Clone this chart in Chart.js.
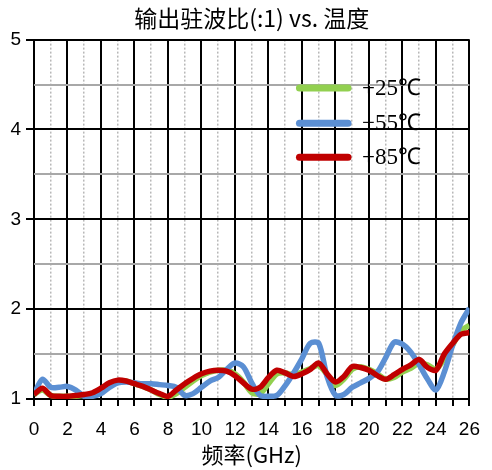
<!DOCTYPE html>
<html>
<head>
<meta charset="utf-8">
<script src="https://cdn.jsdelivr.net/npm/chart.js@4"></script>
<style>
  html, body { margin: 0; padding: 0; background: #fff; }
  #wrap { width: 492px; height: 470px; }
</style>
</head>
<body>
<div id="wrap"><canvas id="vswrChart"></canvas></div>
<script>
// frequency points (GHz)
const freqs = [0, 0.5, 1, 1.5, 2, 2.5, 3, 3.5, 4, 4.5, 5, 5.5, 6, 6.5, 7, 7.5, 8, 8.5, 9, 9.5,
    10, 10.5, 11, 11.5, 12, 12.5, 13, 13.5, 14, 14.5, 15, 15.5, 16, 16.5, 17, 17.5, 18, 18.5, 19, 19.5,
    20, 20.5, 21, 21.5, 22, 22.5, 23, 23.5, 24, 24.5, 25, 25.5, 26];

const vswr25 = [1.05, 1.10, 1.04, 1.03, 1.03, 1.03, 1.04, 1.06, 1.10, 1.16, 1.20, 1.20, 1.17, 1.14, 1.10, 1.05, 1.02, 1.06, 1.13, 1.20,
    1.26, 1.30, 1.32, 1.32, 1.28, 1.19, 1.07, 1.06, 1.17, 1.28, 1.29, 1.27, 1.30, 1.34, 1.37, 1.27, 1.15, 1.22, 1.33, 1.36,
    1.33, 1.28, 1.22, 1.24, 1.30, 1.34, 1.40, 1.38, 1.33, 1.45, 1.60, 1.76, 1.82];

const vswrM55 = [1.05, 1.22, 1.13, 1.13, 1.14, 1.10, 1.03, 1.03, 1.06, 1.13, 1.18, 1.19, 1.18, 1.17, 1.17, 1.16, 1.15, 1.13, 1.04, 1.06,
    1.13, 1.20, 1.24, 1.33, 1.40, 1.36, 1.18, 1.04, 1.03, 1.04, 1.15, 1.29, 1.45, 1.62, 1.62, 1.25, 1.04, 1.05, 1.13, 1.18,
    1.23, 1.30, 1.46, 1.63, 1.61, 1.52, 1.38, 1.22, 1.10, 1.30, 1.60, 1.85, 2.01];

const vswr85 = [1.05, 1.12, 1.04, 1.03, 1.03, 1.04, 1.05, 1.07, 1.12, 1.18, 1.21, 1.20, 1.17, 1.14, 1.10, 1.06, 1.03, 1.10, 1.17, 1.23,
    1.28, 1.31, 1.32, 1.31, 1.26, 1.18, 1.11, 1.13, 1.24, 1.32, 1.29, 1.25, 1.28, 1.33, 1.40, 1.28, 1.19, 1.25, 1.36, 1.35,
    1.32, 1.26, 1.22, 1.27, 1.33, 1.38, 1.44, 1.35, 1.32, 1.50, 1.62, 1.72, 1.74];

const seriesLabels = ['+25℃', '−55℃', '+85℃'];
const seriesColors = ['#92D050', '#5B8FD3', '#C00000'];
const xMajorTicks = [0, 2, 4, 6, 8, 10, 12, 14, 16, 18, 20, 22, 24, 26];
const xMinorTicks = [1, 3, 5, 7, 9, 11, 13, 15, 17, 19, 21, 23, 25];

const toPoints = (ys) => freqs.map((f, i) => ({ x: f, y: ys[i] }));

// legend drawn inside the plot, no box
const innerLegend = {
    id: 'innerLegend',
    afterDraw(chart) {
        const ctx = chart.ctx;
        const xs = chart.scales.x;
        const ys = chart.scales.y;
        const x0 = xs.getPixelForValue(15.85);
        const x1 = xs.getPixelForValue(18.75);
        const rows = [4.46, 4.07, 3.69];
        ctx.save();
        ctx.lineCap = 'round';
        ctx.lineWidth = 7;
        ctx.font = '23px "Liberation Serif", serif';
        ctx.textBaseline = 'middle';
        ctx.fillStyle = '#000';
        seriesLabels.forEach((lab, i) => {
            const y = ys.getPixelForValue(rows[i]);
            ctx.strokeStyle = seriesColors[i];
            ctx.beginPath();
            ctx.moveTo(x0, y);
            ctx.lineTo(x1, y);
            ctx.stroke();
            ctx.fillText(lab, x1 + 14, y + 1);
        });
        ctx.restore();
    }
};

document.addEventListener('DOMContentLoaded', () => {
    const ctx = document.getElementById('vswrChart').getContext('2d');
    const mk = (i, ys, order) => ({
        label: seriesLabels[i],
        data: toPoints(ys),
        borderColor: seriesColors[i],
        backgroundColor: seriesColors[i],
        borderWidth: 5.5,
        pointRadius: 0,
        tension: 0.3,
        order: order
    });
    new Chart(ctx, {
        type: 'line',
        data: {
            datasets: [mk(0, vswr25, 3), mk(1, vswrM55, 2), mk(2, vswr85, 1)]
        },
        options: {
            responsive: true,
            maintainAspectRatio: false,
            animation: false,
            layout: { padding: { left: 0, right: 13, top: 0, bottom: 0 } },
            scales: {
                x: {
                    type: 'linear',
                    min: 0,
                    max: 26,
                    afterBuildTicks: (s) => { s.ticks = freqs.filter(f => Number.isInteger(f)).map(v => ({ value: v })); },
                    afterFit: (s) => { s.height = 71; },
                    ticks: {
                        autoSkip: false,
                        maxRotation: 0,
                        padding: 12,
                        color: '#000',
                        font: { family: '"Liberation Sans", Arial, sans-serif', size: 19 },
                        callback: (v) => xMajorTicks.includes(v) ? String(v) : ''
                    },
                    grid: {
                        color: (c) => xMajorTicks.includes(c.tick.value) ? '#000' : 'rgba(0,0,0,0)',
                        tickColor: '#000',
                        lineWidth: 2,
                        tickWidth: 2,
                        tickLength: 7
                    },
                    border: { display: false },
                    title: {
                        display: true,
                        text: '频率(GHz)',
                        color: '#000',
                        font: { family: '"Noto Sans CJK SC", sans-serif', size: 22 },
                        padding: { top: 0, bottom: 2 }
                    }
                },
                x2: {
                    type: 'linear',
                    position: 'bottom',
                    min: 0,
                    max: 26,
                    afterBuildTicks: (s) => { s.ticks = xMinorTicks.map(v => ({ value: v })); },
                    afterFit: (s) => { s.height = 0; },
                    ticks: { display: false },
                    grid: { color: '#B8B8B8', lineWidth: 1.5, drawTicks: false },
                    border: { display: false, dash: [2, 2] }
                },
                y: {
                    min: 1,
                    max: 5,
                    afterFit: (s) => { s.width = 34; },
                    ticks: {
                        stepSize: 0.5,
                        padding: 5,
                        color: '#000',
                        font: { family: '"Liberation Sans", Arial, sans-serif', size: 19 },
                        callback: (v) => Number.isInteger(v) ? String(v) : ''
                    },
                    grid: {
                        color: (c) => Number.isInteger(c.tick.value) ? '#000' : '#A8A8A8',
                        tickColor: (c) => Number.isInteger(c.tick.value) ? '#000' : 'rgba(0,0,0,0)',
                        lineWidth: 2,
                        tickWidth: 2,
                        tickLength: 8
                    },
                    border: { display: false }
                }
            },
            plugins: {
                legend: { display: false },
                tooltip: { enabled: false },
                title: {
                    display: true,
                    fullSize: false,
                    text: '输出驻波比(:1) vs. 温度',
                    color: '#000',
                    font: { family: '"Noto Sans CJK SC", sans-serif', size: 23, weight: 'normal' },
                    padding: { top: 4, bottom: 8 }
                }
            }
        },
        plugins: [innerLegend]
    });
});
</script>
</body>
</html>
